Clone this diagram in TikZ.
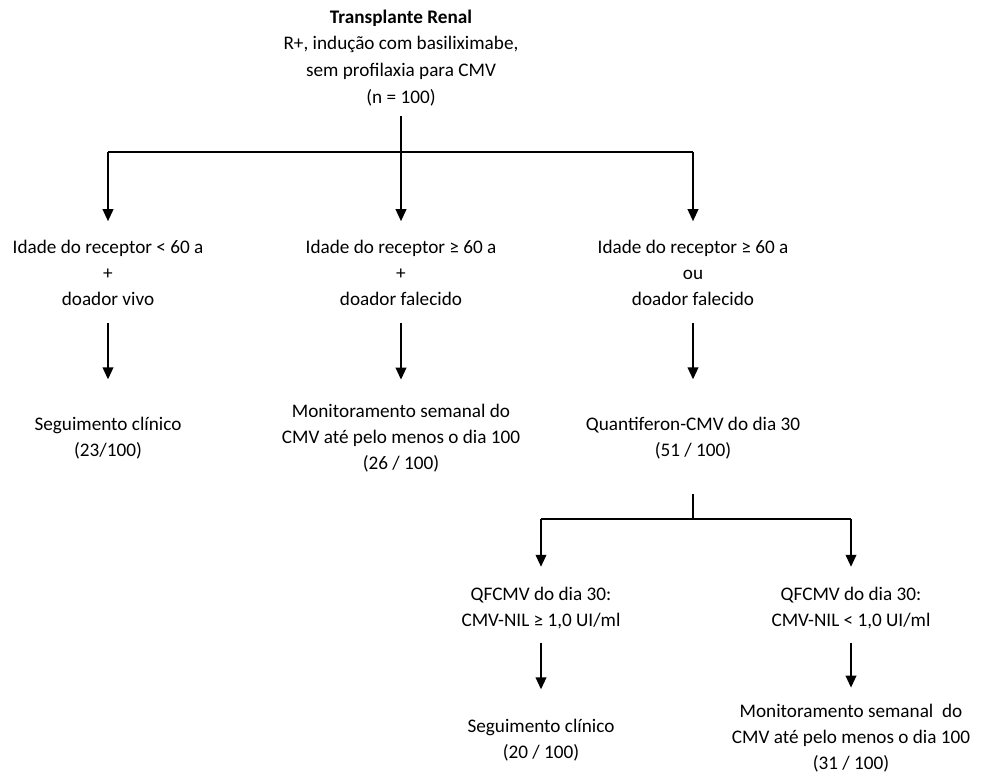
\documentclass[tikz,border=0pt]{standalone}
\usepackage{fontspec}
\setmainfont{Carlito}
\usetikzlibrary{arrows.meta}

\tikzset{
  txt/.style={align=center, inner sep=0pt, font=\fontsize{14.4}{19.6}\selectfont},
  link/.style={line width=1.3pt},
  arr/.style={line width=1.3pt, -{Triangle[width=8pt,length=9pt]}}
}

\begin{document}
\begin{tikzpicture}[x=0.75pt, y=-0.75pt]
  \useasboundingbox (0,0) rectangle (981,773);
  % top of the tree
  \node[txt, font=\fontsize{14.4}{20.2}\selectfont] (root) at (401,58) {\textbf{Transplante Renal}\\R+, indução com basiliximabe,\\sem profilaxia para CMV\\(n = 100)};
  % junctions
  \coordinate (j0) at (401,152);
  \coordinate (jl) at (108,152);
  \coordinate (jr) at (693,152);
  % first level
  \node[txt] (a1) at (108,273) {Idade do receptor < 60 a\\+\\doador vivo};
  \node[txt] (a2) at (401,273) {Idade do receptor ≥ 60 a\\+\\doador falecido};
  \node[txt] (a3) at (693,273) {Idade do receptor ≥ 60 a\\ou\\doador falecido};
  % second level
  \node[txt] (b1) at (108,438) {Seguimento clínico\\(23/100)};
  \node[txt] (b2) at (401,438) {Monitoramento semanal do\\CMV até pelo menos o dia 100\\(26 / 100)};
  \node[txt] (b3) at (693,438) {Quantiferon-CMV do dia 30\\(51 / 100)};
  % QF split
  \coordinate (k0) at (693,519);
  \coordinate (kl) at (541,519);
  \coordinate (kr) at (851,519);
  \node[txt] (c1) at (541,608) {QFCMV do dia 30:\\CMV-NIL ≥ 1,0 UI/ml};
  \node[txt] (c2) at (851,608) {QFCMV do dia 30:\\CMV-NIL < 1,0 UI/ml};
  \node[txt] (d1) at (541,740) {Seguimento clínico\\(20 / 100)};
  \node[txt] (d2) at (851,738) {Monitoramento semanal~ do\\CMV até pelo menos o dia 100\\(31 / 100)};
  % connectors
  \draw[link, shorten <=7pt] (root) -- (j0);
  \draw[link] (jl) -- (jr);
  \draw[arr, shorten >=14pt] (jl) -- (a1);
  \draw[arr, shorten >=14pt] (j0) -- (a2);
  \draw[arr, shorten >=14pt] (jr) -- (a3);
  \draw[arr, shorten <=13pt, shorten >=28pt] (a1) -- (b1);
  \draw[arr, shorten <=13pt, shorten >=18pt] (a2) -- (b2);
  \draw[arr, shorten <=13pt, shorten >=28pt] (a3) -- (b3);
  \draw[link, shorten <=26pt] (b3) -- (k0);
  \draw[link] (kl) -- (kr);
  \draw[arr, shorten >=15pt] (kl) -- (c1);
  \draw[arr, shorten >=15pt] (kr) -- (c2);
  \draw[arr, shorten <=10pt, shorten >=22pt] (c1) -- (d1);
  \draw[arr, shorten <=10pt, shorten >=12pt] (c2) -- (d2);
\end{tikzpicture}
\end{document}
